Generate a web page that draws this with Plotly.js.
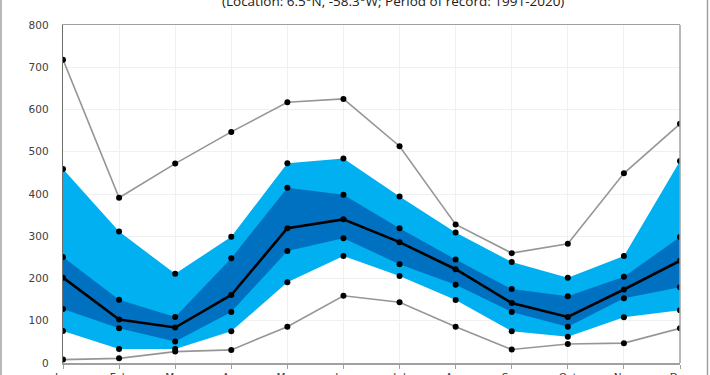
<!DOCTYPE html>
<html>
<head>
<meta charset="utf-8">
<script src="https://cdn.plot.ly/plotly-3.0.1.min.js"></script>
<style>
  html, body { margin: 0; padding: 0; background: #fff; }
  #chart { width: 710px; height: 375px; }
</style>
</head>
<body>
<div id="chart"></div>
<script>
// Monthly precipitation climatology (mm)
const months = ["Jan","Feb","Mar","Apr","May","Jun","Jul","Aug","Sep","Oct","Nov","Dec"];
const maxVals = [718, 391, 472, 547, 617, 625, 513, 328, 260, 282, 449, 566];
const p90Vals = [459, 311, 211, 299, 473, 484, 394, 309, 239, 202, 253, 478];
const p75Vals = [251, 150, 109, 248, 415, 398, 319, 245, 175, 158, 204, 298];
const medVals = [202, 103, 84, 161, 319, 340, 286, 222, 142, 109, 174, 242];
const p25Vals = [128, 82, 51, 121, 265, 295, 234, 185, 121, 86, 153, 179];
const p10Vals = [76, 33, 33, 75, 191, 253, 206, 149, 75, 62, 108, 125];
const minVals = [8, 11, 27, 31, 86, 159, 144, 86, 32, 45, 47, 82];
const yTicks = [0, 100, 200, 300, 400, 500, 600, 700, 800];
const titleText = "(Location: 6.5°N, -58.3°W; Period of record: 1991-2020)";

const xs = months.map((m, i) => i);
const mk = {color: "#000", size: 6};
const none = {width: 0, color: "rgba(0,0,0,0)"};

const traces = [
  {x: xs, y: p10Vals, mode: "lines", line: none, hoverinfo: "skip", showlegend: false},
  {x: xs, y: p90Vals, mode: "lines", line: none, fill: "tonexty", fillcolor: "#00B0F0", showlegend: false},
  {x: xs, y: p25Vals, mode: "lines", line: none, hoverinfo: "skip", showlegend: false},
  {x: xs, y: p75Vals, mode: "lines", line: none, fill: "tonexty", fillcolor: "#0070C0", showlegend: false},
  {x: xs, y: p10Vals, mode: "markers", marker: mk, showlegend: false},
  {x: xs, y: p90Vals, mode: "markers", marker: mk, showlegend: false},
  {x: xs, y: p25Vals, mode: "markers", marker: mk, showlegend: false},
  {x: xs, y: p75Vals, mode: "markers", marker: mk, showlegend: false},
  {x: xs, y: maxVals, mode: "lines+markers", line: {color: "#969696", width: 1.6}, marker: mk, showlegend: false},
  {x: xs, y: minVals, mode: "lines+markers", line: {color: "#969696", width: 1.6}, marker: mk, showlegend: false},
  {x: xs, y: medVals, mode: "lines+markers", line: {color: "#000", width: 2.6}, marker: mk, showlegend: false}
];

const L = 63, R = 680, T = 24.5, B = 363;
const pw = R - L, ph = B - T;
const px2x = p => (p - L) / pw;
const py2y = p => (B - p) / ph;

const layout = {
  width: 710, height: 375,
  margin: {l: L, r: 710 - R, t: T, b: 375 - B, pad: 0},
  paper_bgcolor: "#fff", plot_bgcolor: "#fff",
  font: {family: "DejaVu Sans", color: "#404040", size: 10.5},
  showlegend: false,
  xaxis: {
    range: [0, 11], tickvals: xs, ticktext: months,
    showgrid: true, gridcolor: "#f0f0f0", gridwidth: 1,
    showline: true, linecolor: "#a0a0a0", linewidth: 1.5, mirror: true,
    ticks: "outside", ticklen: 4, tickcolor: "#a0a0a0",
    zeroline: false, fixedrange: true,
    tickfont: {family: "DejaVu Sans", size: 10.5, color: "#404040"}
  },
  yaxis: {
    range: [0, 800], tickvals: yTicks,
    showgrid: true, gridcolor: "#f0f0f0", gridwidth: 1,
    showline: true, linecolor: "#6e6e6e", linewidth: 1.3,
    ticks: "", zeroline: false, fixedrange: true,
    ticklabelstandoff: 11,
    tickfont: {family: "DejaVu Sans", size: 10.5, color: "#404040"}
  },
  shapes: [
    {type: "line", xref: "paper", yref: "paper", x0: 1, x1: 1, y0: 0, y1: 1, line: {color: "#a0a0a0", width: 1.5}},
    {type: "line", xref: "paper", yref: "paper", x0: px2x(1), x1: px2x(1), y0: py2y(376), y1: py2y(-1), line: {color: "#a0a0a0", width: 1.5}},
    {type: "line", xref: "paper", yref: "paper", x0: px2x(707.5), x1: px2x(707.5), y0: py2y(376), y1: py2y(-1), line: {color: "#a0a0a0", width: 1.5}}
  ],
  annotations: [
    {text: titleText, xref: "paper", yref: "paper", x: px2x(393), y: py2y(0.5),
     xanchor: "center", yanchor: "middle", showarrow: false,
     font: {family: "Open Sans", size: 13.5, color: "#202020"}}
  ]
};

Plotly.newPlot("chart", traces, layout, {staticPlot: true, displayModeBar: false});
</script>
</body>
</html>
